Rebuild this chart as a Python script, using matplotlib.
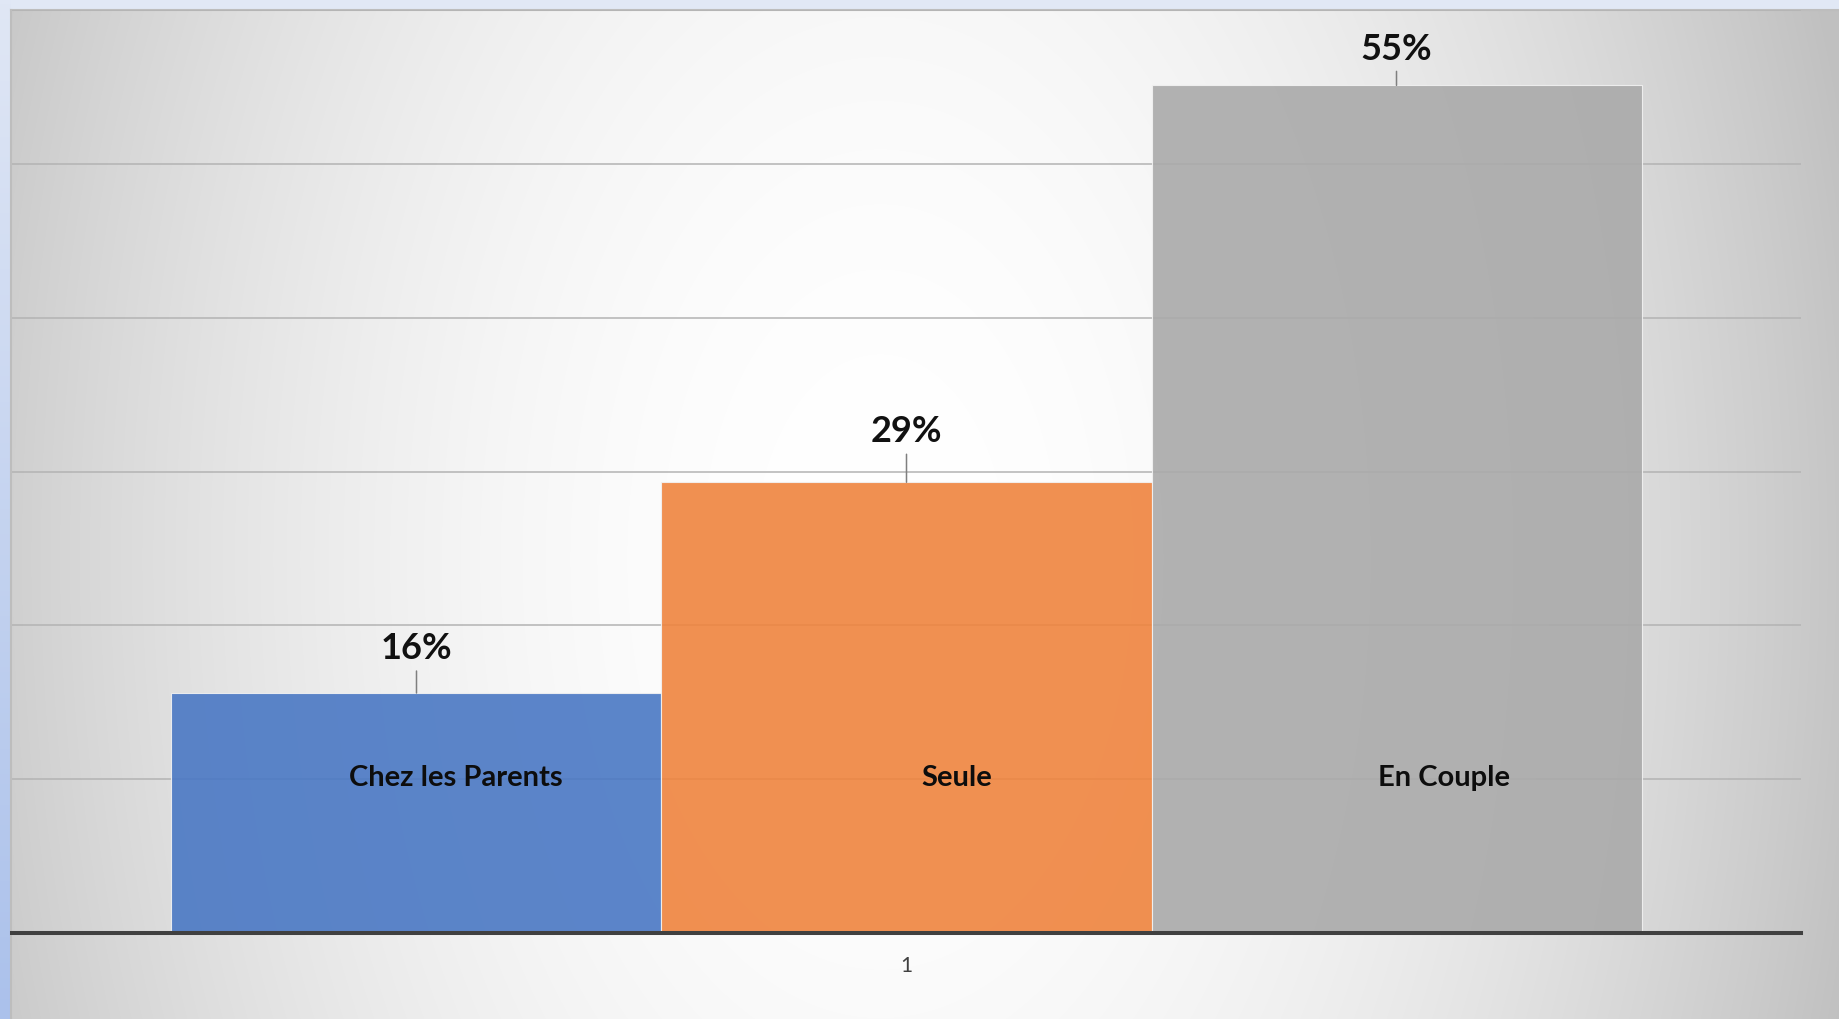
import matplotlib.pyplot as plt
import numpy as np
from matplotlib.ticker import MultipleLocator

# data (bar heights; labels show them rounded)
categories = ['Chez les Parents', 'Seule', 'En Couple']
values = [15.6, 29.3, 55.1]
x_tick_labels = ['1']

# styles
bar_colors = ['#4a78c4', '#ef843e', '#aaaaaa']
value_lift = [35, 41, 26]     # px from bar top to label baseline
leader_len = [22, 28, 14]     # px
name_dx = [39, 50, 47]        # px shift of the category name
name_dy = 148                 # px above the axis line
W, H = 1840, 1020
DPI = 100
plt.rcParams['font.family'] = ['Lato', 'DejaVu Sans']

fig = plt.figure(figsize=(W / DPI, H / DPI), dpi=DPI)
fig.patch.set_facecolor('#e1e8f5')

# bluish strip on the left
ax_strip = fig.add_axes([0, 0, 11 / W, 1])
strip = np.linspace(0, 1, 200)[:, None]
c_top = np.array([0xe0, 0xe7, 0xf5]) / 255
c_bot = np.array([0xab, 0xc1, 0xeb]) / 255
ax_strip.imshow(c_top + (c_bot - c_top) * strip[:, :, None], aspect='auto')
ax_strip.axis('off')

# chart area with a radial grey gradient
ax_bg = fig.add_axes([11 / W, 0, 1 - 11 / W, 1 - 11 / H])
X, Y = np.meshgrid(np.arange(11, W), np.arange(11, H))
r = np.sqrt(((X - 880) / 895.0) ** 2 + ((Y - 560) / 1450.0) ** 2)
g = np.clip(255 - 50 * r ** 2, 192, 255) / 255
ax_bg.imshow(np.dstack([g, g, g]), aspect='auto', interpolation='bilinear')
ax_bg.set_xticks([])
ax_bg.set_yticks([])
for s in ['right', 'bottom']:
    ax_bg.spines[s].set_visible(False)
for s in ['left', 'top']:
    ax_bg.spines[s].set_color('#bdbdbd')
    ax_bg.spines[s].set_linewidth(1.5)

# plot area
ax = fig.add_axes([12 / W, (H - 934) / H, 1789 / W, 923 / H])
ax.set_facecolor('none')
ax.set_xlim(0.5, 1.5)
ax.set_ylim(0, 60)

w = 0.2739
pos = 1 + (np.arange(len(values)) - 1) * w
bars = ax.bar(pos, values, width=w, color=bar_colors, alpha=0.9,
              edgecolor='#f2f2f2', linewidth=0.8, zorder=2)

ax.yaxis.set_major_locator(MultipleLocator(10))
ax.set_yticklabels([])
ax.tick_params(axis='y', length=0)
ax.grid(axis='y', color='#b3b3b3', linewidth=1.1, zorder=1)
ax.set_axisbelow(True)
for s in ax.spines.values():
    s.set_visible(False)
ax.axhline(0, color='#404040', linewidth=2.9, zorder=5, clip_on=False)

ax.set_xticks([1])
ax.set_xticklabels(x_tick_labels, fontsize=15, color='#404040')
ax.tick_params(axis='x', length=0, pad=16)

for i, (x, v) in enumerate(zip(pos, values)):
    ax.annotate('', xy=(x, v), xytext=(0, leader_len[i]), textcoords='offset pixels',
                arrowprops=dict(arrowstyle='-', color='#7f7f7f', lw=1.1,
                                shrinkA=0, shrinkB=0), zorder=4)
    ax.annotate(f'{v:.0f}%', xy=(x, v), xytext=(0, value_lift[i]), textcoords='offset pixels',
                ha='center', va='baseline', fontsize=26, fontweight='bold', color='#111111')
    ax.annotate(categories[i], xy=(x, 0), xytext=(name_dx[i], name_dy), textcoords='offset pixels',
                ha='center', va='baseline', fontsize=21, fontweight='bold', color='#0d0d0d',
                zorder=6)

plt.savefig('out.png', dpi=DPI)
plt.close()
